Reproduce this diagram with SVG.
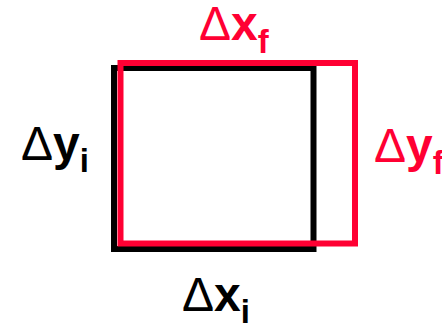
<svg xmlns="http://www.w3.org/2000/svg" width="442" height="326" viewBox="0 0 442 326">
<style>
.lbl{font-family:"Liberation Sans",Arial,sans-serif;font-size:48px}
.d{font-weight:normal}
.b{font-weight:bold}
.sub{font-weight:bold;font-size:33px}
.red{fill:#ff0033}
.blk{fill:#000}
.box{fill:none;stroke-width:6}
</style>
<rect width="442" height="326" fill="#fff"/>
<g id="initial-box">
<rect class="box" x="114" y="68" width="199.5" height="181" stroke="#000"/>
</g>
<g id="final-box">
<rect class="box" x="120.5" y="63" width="234.5" height="180.5" stroke="#ff0033"/>
</g>
<g id="label-dxf">
<text class="lbl red" x="199" y="40"><tspan class="d">Δ</tspan><tspan class="b">x</tspan><tspan class="sub" dy="13">f</tspan></text>
</g>
<g id="label-dyi">
<text class="lbl blk" x="21" y="160"><tspan class="d">Δ</tspan><tspan class="b">y</tspan><tspan class="sub" dy="12">i</tspan></text>
</g>
<g id="label-dyf">
<text class="lbl red" x="374" y="162"><tspan class="d">Δ</tspan><tspan class="b">y</tspan><tspan class="sub" dy="12">f</tspan></text>
</g>
<g id="label-dxi">
<text class="lbl blk" x="182" y="311"><tspan class="d">Δ</tspan><tspan class="b">x</tspan><tspan class="sub" dy="12">i</tspan></text>
</g>
</svg>
